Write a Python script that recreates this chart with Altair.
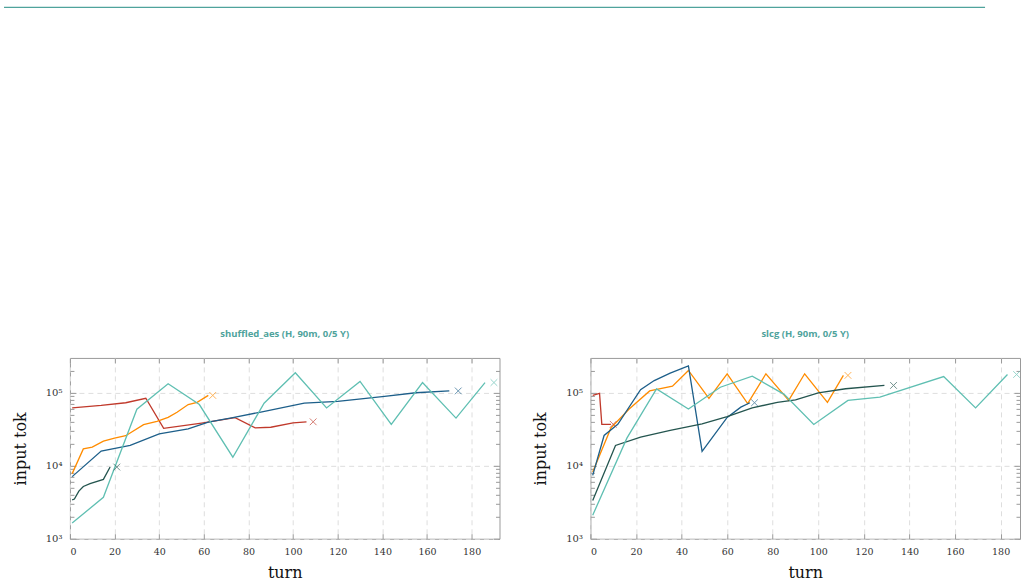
import altair as alt
import pandas as pd

# ---- series styling -------------------------------------------------------
RUNS = ["red", "orange", "blue", "green", "teal"]
COLORS = ["#c0392b", "#ff8c00", "#1d5f8a", "#24554f", "#5fbfb2"]
TEAL = "#4fa39c"
FRAME = "#9a9a9a"
SERIF = "DejaVu Serif"

X_TICKS = [0, 20, 40, 60, 80, 100, 120, 140, 160, 180]
Y_MAJOR = [1000, 10000, 100000]
Y_ALL = [1000, 2000, 3000, 4000, 5000, 6000, 7000, 8000, 9000,
         10000, 20000, 30000, 40000, 50000, 60000, 70000, 80000, 90000,
         100000, 200000]

# ---- shuffled_aes ---------------------------------------------------------
aes_red_turn = [1, 14, 25, 34, 42, 59, 74, 83, 90, 100, 106]
aes_red_tok = [62000, 67000, 73000, 84000, 32500, 38400, 45500, 33000, 33700, 38800, 40000]
aes_red_end = 109

aes_orange_turn = [1, 6, 10, 15, 20, 25, 33, 39, 44, 48, 53, 57, 62]
aes_orange_tok = [7800, 17000, 18000, 21700, 24000, 25800, 36500, 40500, 46000, 54000, 69000, 74000, 92000]
aes_orange_end = 64

aes_blue_turn = [1, 14, 27, 40, 53, 62, 73, 85, 105, 120, 141, 155, 170]
aes_blue_tok = [7100, 15900, 19000, 27400, 32000, 39500, 45500, 54000, 72000, 76000, 89000, 100000, 106000]
aes_blue_end = 174

aes_green_turn = [1, 2, 4, 6, 9, 15, 18]
aes_green_tok = [3400, 3500, 4500, 5200, 5700, 6500, 9600]
aes_green_end = 21

aes_teal_turn = [1, 15, 30, 44, 58, 73, 87, 101, 115, 130, 144, 158, 173, 186]
aes_teal_tok = [1640, 3700, 59600, 133000, 69000, 13100, 72000, 188000, 62000, 143000, 37000, 138000, 45000, 138000]
aes_teal_end = 190

# ---- slcg -----------------------------------------------------------------
slcg_red_turn = [1, 4, 5, 9]
slcg_red_tok = [92000, 98000, 37000, 37000]
slcg_red_end = 10

slcg_orange_turn = [1, 9, 17, 26, 36, 43, 52, 60, 69, 77, 87, 94, 104, 111]
slcg_orange_tok = [8200, 33000, 60000, 106000, 123000, 202000, 84000, 182000, 71000, 182000, 78500, 182000, 74000, 173000]
slcg_orange_end = 113

slcg_blue_turn = [1, 6, 12, 22, 28, 35, 43, 49, 60, 66, 70]
slcg_blue_tok = [7400, 26000, 37000, 110000, 147000, 186000, 234000, 15700, 46000, 63500, 73000]
slcg_blue_end = 72

slcg_green_turn = [1, 11, 22, 35, 49, 60, 71, 82, 90, 100, 112, 129]
slcg_green_tok = [3350, 19000, 24700, 30500, 37600, 47000, 62000, 74000, 80000, 100000, 113500, 126000]
slcg_green_end = 133

slcg_teal_turn = [1, 16, 29, 43, 57, 71, 85, 98, 113, 127, 155, 169, 183]
slcg_teal_tok = [2100, 23900, 113000, 60000, 119000, 169000, 95000, 36800, 78500, 87000, 167000, 62000, 178000]
slcg_teal_end = 187

W, H = 430, 181
MAJOR_TEST = "datum.value == 1000 || datum.value == 10000 || datum.value == 100000"
SUP = ("datum.value == 1000 ? '10\u00b3' : datum.value == 10000 ? '10\u2074' : "
       "datum.value == 100000 ? '10\u2075' : ''")


def frames(series):
    rows, ends = [], []
    for run, turns, toks, end in series:
        for t, v in zip(turns, toks):
            rows.append({"run": run, "turn": t, "tok": v})
        ends.append({"run": run, "turn": end, "tok": toks[-1]})
    return pd.DataFrame(rows), pd.DataFrame(ends)


def panel(title, series, x_max):
    lines, ends = frames(series)
    xs = alt.Scale(domain=[0, x_max], nice=False, zero=False)
    ys = alt.Scale(type="log", domain=[1000, 300000], nice=False)
    color = alt.Color("run:N", scale=alt.Scale(domain=RUNS, range=COLORS), legend=None)

    x_main = alt.Axis(orient="bottom", values=X_TICKS, ticks=False, domain=False,
                      grid=True, gridDash=[5, 4], gridColor="#dedede",
                      labelFont=SERIF, labelFontSize=9.5, labelColor="#333333", labelPadding=8,
                      title="turn", titleFont=SERIF, titleFontSize=16,
                      titleFontWeight="normal", titleColor="#111111", titlePadding=8)
    y_main = alt.Axis(orient="left", values=Y_MAJOR, ticks=False, domain=False,
                      grid=True, gridDash=[5, 4], gridColor="#dedede",
                      labelExpr=SUP, labelOverlap=False,
                      labelFont=SERIF, labelFontSize=10, labelColor="#333333", labelPadding=8,
                      title="input tok", titleFont=SERIF, titleFontSize=16,
                      titleFontWeight="normal", titleColor="#111111", titlePadding=17)

    def xticks(orient):
        return alt.Axis(orient=orient, offset=-H, values=X_TICKS, labels=False, domain=False,
                        grid=False, tickColor=FRAME, tickSize=5, title=None)

    def yticks(orient):
        return alt.Axis(orient=orient, offset=-W, values=Y_ALL, labels=False, domain=False,
                        grid=False, tickColor=FRAME, title=None,
                        tickSize={"condition": {"test": MAJOR_TEST, "value": 6}, "value": 4})

    base = alt.Chart(lines)
    drawn = base.mark_line(strokeWidth=1.3).encode(
        x=alt.X("turn:Q", scale=xs, axis=x_main),
        y=alt.Y("tok:Q", scale=ys, axis=y_main),
        color=color,
        detail="run:N",
    )
    # inward tick marks along all four edges
    ticks_a = base.mark_point(opacity=0).encode(
        x=alt.X("turn:Q", scale=xs, axis=xticks("bottom")),
        y=alt.Y("tok:Q", scale=ys, axis=yticks("right")),
    )
    ticks_b = base.mark_point(opacity=0).encode(
        x=alt.X("turn:Q", scale=xs, axis=xticks("top")),
        y=alt.Y("tok:Q", scale=ys, axis=yticks("left")),
    )
    markers = alt.Chart(ends).mark_point(
        shape="M-1,-1L1,1M-1,1L1,-1", size=45, filled=False, strokeWidth=1, opacity=0.65
    ).encode(
        x=alt.X("turn:Q", scale=xs, axis=None),
        y=alt.Y("tok:Q", scale=ys, axis=None),
        color=color,
    )
    return alt.layer(drawn, ticks_a, ticks_b, markers).resolve_axis(
        x="independent", y="independent"
    ).properties(
        width=W, height=H,
        title=alt.TitleParams(title, font="Open Sans", fontSize=9.5, fontWeight="bold", color=TEAL,
                              frame="group", anchor="middle", baseline="bottom", offset=9),
    )


left = panel("shuffled_aes (H, 90m, 0/5 Y)", [
    ("red", aes_red_turn, aes_red_tok, aes_red_end),
    ("orange", aes_orange_turn, aes_orange_tok, aes_orange_end),
    ("blue", aes_blue_turn, aes_blue_tok, aes_blue_end),
    ("green", aes_green_turn, aes_green_tok, aes_green_end),
    ("teal", aes_teal_turn, aes_teal_tok, aes_teal_end),
], 192.5)

right = panel("slcg (H, 90m, 0/5 Y)", [
    ("red", slcg_red_turn, slcg_red_tok, slcg_red_end),
    ("orange", slcg_orange_turn, slcg_orange_tok, slcg_orange_end),
    ("blue", slcg_blue_turn, slcg_blue_tok, slcg_blue_end),
    ("green", slcg_green_turn, slcg_green_tok, slcg_green_end),
    ("teal", slcg_teal_turn, slcg_teal_tok, slcg_teal_end),
], 188.5)

# header rule across the top of the page
header = alt.Chart(pd.DataFrame({"k": [0]})).mark_rule(color=TEAL, strokeWidth=1.2).encode(
    x=alt.value(-66), x2=alt.value(916), y=alt.value(0)
).properties(width=850, height=1, view=alt.ViewBackground(strokeOpacity=0))

chart = alt.vconcat(
    header,
    alt.hconcat(left, right, spacing=91, bounds="flush"),
    spacing=350, bounds="flush",
).configure(
    padding={"left": 3, "top": 6, "right": 5, "bottom": 5}
).configure_view(stroke=FRAME, strokeWidth=1)

chart.save("out.html", embed_options={"renderer": "svg", "actions": False})
